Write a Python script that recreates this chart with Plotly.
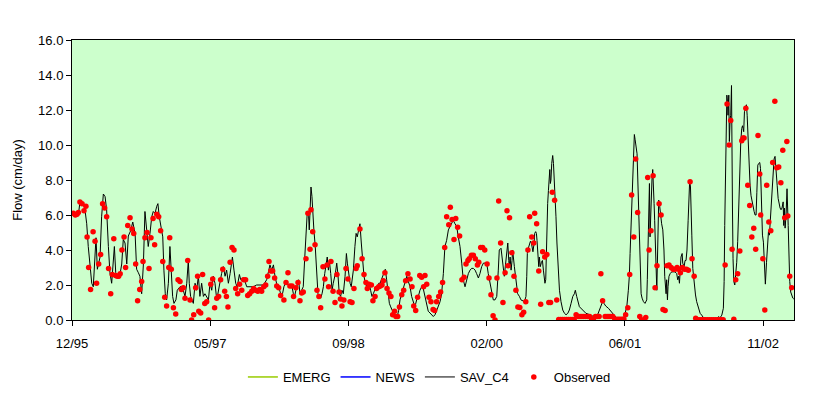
import numpy as np
import pandas as pd
import plotly.graph_objects as go

# ---------------- data ----------------
start_date = "1995-12-28"          # first date on the x axis (weekly time index origin)
tick_step_days = 500
tick_labels = ["12/95", "05/97", "09/98", "02/00", "06/01", "11/02"]
span_weeks = 373.1
y_ticks = [0, 2, 4, 6, 8, 10, 12, 14, 16]

# simulated flow (SAV_C4), week index and value (cm/day)
sav_week = [
    0.0, 1.5, 2.4, 3.3, 4.1, 5.9, 6.7, 7.6, 8.4, 9.3,
    10.2, 11.0, 11.9, 12.4, 13.1, 13.8, 14.5, 15.3, 16.2, 17.1,
    17.9, 18.8, 19.6, 20.5, 21.4, 21.9, 22.6, 23.4, 24.5, 25.7,
    26.5, 27.4, 28.3, 29.1, 30.3, 31.4, 32.6, 33.4, 34.3, 35.1,
    36.0, 36.9, 37.7, 38.6, 39.4, 40.3, 41.2, 42.0, 42.9, 43.8,
    44.4, 45.1, 46.0, 46.9, 47.5, 48.2, 48.9, 49.8, 50.6, 51.3,
    52.0, 52.7, 53.7, 54.4, 55.8, 56.7, 57.5, 58.4, 59.3, 60.1,
    60.6, 61.3, 62.0, 62.7, 63.6, 64.4, 65.3, 66.1, 67.0, 67.9,
    68.7, 69.6, 70.5, 71.3, 72.2, 73.0, 73.9, 74.8, 75.6, 76.5,
    77.3, 78.2, 79.1, 79.9, 80.8, 81.7, 82.9, 83.7, 84.6, 85.4,
    86.5, 87.2, 88.2, 89.4, 90.3, 92.0, 93.7, 95.4, 97.2, 98.9,
    100.6, 101.5, 102.3, 103.2, 104.1, 104.9, 105.8,
    106.1, 107.1, 107.8, 108.8, 109.5, 110.6, 111.3, 112.3, 113.0, 113.7,
    114.4, 115.0, 115.7, 116.4, 117.1, 117.8, 118.7, 119.5, 120.2, 120.9,
    121.6, 122.3, 122.6, 123.0, 123.5, 124.0, 124.4, 125.0, 125.7, 126.4,
    127.1, 127.8, 128.5, 129.2, 129.9, 130.6, 131.2, 131.9, 132.5, 133.0,
    133.7, 134.4, 135.0, 136.1, 136.8, 137.4, 138.1, 138.8, 139.5, 140.2,
    141.1, 141.8, 142.3, 143.0, 143.7, 144.3, 145.4, 146.2, 146.8, 147.4,
    148.1, 148.8, 149.5, 150.2, 150.9, 151.6, 152.3, 153.0, 153.6, 154.3,
    155.0, 155.7, 156.4, 157.1, 157.8, 158.5, 159.2, 159.9, 160.5, 161.2,
    161.9, 162.6, 163.3, 164.0, 164.7, 165.4, 166.1, 166.7, 167.4, 168.1,
    168.8, 169.5, 170.4, 171.2, 172.1, 173.0, 173.8, 174.7, 175.5, 176.4,
    177.2, 178.1, 179.0, 179.8, 180.7, 181.5, 182.4, 183.3, 184.1, 185.0,
    185.9, 186.7, 187.6, 188.4, 189.3, 190.2, 191.0, 191.9, 192.7, 193.6,
    194.5, 195.3, 196.2, 197.0, 197.9, 198.8, 199.6, 200.5, 201.4, 202.2,
    203.1, 203.9, 204.8, 205.7, 206.5, 207.4, 208.3, 209.1, 210.0, 210.8,
    211.7, 212.6, 213.4, 214.3, 215.1, 216.0, 216.9, 217.7, 218.6,
    219.5, 220.3, 220.8, 221.7, 222.9, 223.4, 224.0, 224.6, 225.2, 225.7,
    226.0, 226.4, 226.9, 227.4, 227.7, 228.6, 229.5, 230.3, 231.2, 232.0,
    233.8, 234.6, 235.0, 235.3, 235.8, 236.4, 236.9, 237.4, 237.9, 238.2,
    238.8, 239.1, 239.6, 240.0, 240.3, 240.7, 241.2, 241.5, 242.0, 242.6,
    243.1, 243.6, 244.1, 244.4, 244.8, 245.1, 245.5, 245.8, 246.2, 246.5,
    246.9, 247.2, 247.5, 247.9, 248.4, 248.8, 249.1, 249.6, 250.1, 250.6,
    251.2, 251.9, 252.7, 253.6, 254.5, 255.3, 256.2, 257.0, 257.9, 258.8,
    259.6, 260.1, 260.8, 261.5, 262.2, 263.9, 265.6,
    267.7, 269.4, 271.1, 272.0, 272.9, 273.7, 274.2, 274.9, 275.8, 277.2,
    278.4, 279.8, 281.5, 283.2, 285.0, 285.8, 286.7, 287.5, 288.0, 288.4,
    288.9, 289.2, 289.8, 290.3, 290.6, 291.0, 291.5, 292.0, 292.5, 293.0,
    293.5, 294.1, 294.6, 295.3, 296.1, 297.0, 297.3, 297.9, 298.4, 298.7,
    299.1, 299.4, 299.7, 300.1, 300.4, 300.8, 301.1, 301.5, 301.8, 302.2,
    302.5, 302.9, 303.2, 303.7, 304.2, 304.7, 305.3, 305.6, 305.9, 306.3,
    306.6, 307.0, 307.3, 307.7, 308.0, 308.5, 309.1, 309.9, 310.8, 311.6,
    312.5, 313.0, 313.5, 313.9, 314.2, 314.7, 315.3, 315.6, 316.3, 316.8,
    317.3, 317.8, 318.4, 318.9, 319.2, 319.6,
    319.9, 320.3, 320.8, 321.5, 322.2, 322.8, 323.7, 324.6, 325.4, 326.3,
    328.0, 329.7, 331.5, 333.2, 334.0, 334.9, 335.8, 336.6, 337.0, 337.3,
    337.7, 338.0, 338.4, 338.7, 339.0, 339.4, 339.7, 340.1, 340.4, 340.8,
    340.9, 341.3, 341.6, 342.0, 342.5, 343.0, 343.5, 344.0, 344.5, 345.1,
    345.6, 346.1, 346.5, 346.8, 347.1, 347.5, 348.0, 348.5, 348.9, 349.4,
    349.9, 350.4, 350.9, 351.4, 351.9, 352.5, 353.0, 353.5, 353.9, 354.4,
    354.9, 355.4, 355.8, 356.1, 356.4, 356.8, 357.3, 357.8, 358.3, 358.9,
    359.4, 359.9, 360.4, 360.8, 361.3, 361.8, 362.3, 362.8, 363.3, 363.9,
    364.4, 364.9, 365.4, 365.9, 366.4, 366.9, 367.5, 367.8, 368.2, 368.5,
    369.0, 369.5, 370.1, 370.4, 370.9, 371.4, 371.9, 372.5, 373.0,
]
sav_flow = [
    6.1, 5.9, 6.2, 6.0, 6.75, 6.7, 6.3, 5.5, 4.2, 3.2,
    2.1, 1.9, 4.2, 4.7, 2.9, 3.2, 3.6, 5.9, 7.2, 7.05,
    6.3, 4.2, 2.7, 2.1, 3.2, 4.2, 2.7, 2.5, 2.4, 3.2,
    4.6, 4.4, 3.2, 4.8, 5.1, 5.6, 4.95, 2.9, 2.7, 2.5,
    1.5, 3.2, 6.2, 5.1, 4.2, 4.95, 5.9, 6.2, 6.1, 6.5,
    6.65, 5.9, 5.3, 4.75, 2.85, 1.5, 1.15, 2.1, 4.2, 2.85,
    1.35, 0.95, 1.15, 1.7, 1.9, 1.9, 1.7, 1.35, 2.1, 3.4,
    2.1, 1.35, 1.15, 0.95, 2.1, 1.7, 2.5, 1.35, 2.1, 1.35,
    1.5, 1.35, 1.15, 2.1, 1.7, 2.5, 2.1, 1.15, 1.7, 2.1,
    2.65, 3.05, 2.5, 2.85, 2.1, 2.65, 3.6, 2.85, 2.1, 1.9,
    2.6, 2.3, 2.4, 2.2, 1.9, 1.9, 1.9, 2.0, 2.0, 2.0,
    2.3, 2.85, 3.15, 2.85, 3.15, 2.5, 1.9,
    1.9, 1.8, 1.5, 1.5, 1.9, 2.2, 2.1, 1.9, 2.0, 1.9,
    1.5, 1.35, 1.7, 2.1, 2.3, 1.5, 1.7, 1.9, 3.4, 5.15,
    6.2, 5.9, 5.15, 6.2, 7.6, 7.05, 6.1, 5.15, 4.2, 2.85,
    1.5, 1.35, 1.25, 1.5, 1.9, 2.65, 3.25, 3.6, 2.85, 3.4,
    2.65, 1.7, 2.1, 2.65, 3.25, 2.65, 1.5, 1.35, 1.7, 1.5,
    2.5, 3.8, 3.25, 2.5, 2.1, 1.9, 2.85, 4.2, 4.95, 4.75,
    5.15, 5.5, 4.4, 3.25, 2.5, 2.1, 1.9, 2.1, 2.1, 1.7,
    1.35, 1.5, 1.7, 1.9, 1.9, 2.1, 2.1, 2.3, 2.5, 2.65,
    2.9, 2.3, 1.5, 0.95, 0.75, 0.55, 0.4, 0.3, 0.1, 0.2,
    0.55, 1.15, 1.5, 1.9, 2.3, 2.5, 2.2, 1.9, 1.35, 0.95,
    0.75, 1.15, 1.35, 1.7, 1.9, 1.8, 1.35, 0.75, 0.5, 0.4,
    0.3, 0.2, 0.3, 0.55, 0.75, 1.05, 1.5, 2.65, 4.2, 4.55,
    5.15, 5.35, 5.6, 5.7, 5.5, 5.35, 4.75, 4.2, 3.25, 2.3,
    1.9, 2.3, 2.65, 2.85, 2.95, 2.95, 2.85, 2.65, 2.4, 2.65,
    3.05, 3.25, 3.25, 3.25, 2.65, 2.1, 1.5, 1.15, 1.15,
    1.35, 2.85, 4.0, 4.1, 3.05, 2.5, 3.15, 3.8, 4.4, 3.4,
    3.05, 3.6, 2.85, 3.4, 4.0, 3.05, 2.1, 1.5, 1.35, 1.15,
    1.05, 1.35, 2.5, 3.8, 4.1, 4.4, 4.5, 4.4, 4.0, 3.9,
    4.4, 4.95, 5.05, 4.95, 4.55, 3.4, 3.05, 3.6, 3.05, 3.3,
    3.4, 2.85, 2.5, 2.1, 2.3, 4.0, 5.9, 6.65, 7.4, 8.3,
    8.6, 7.8, 8.0, 8.95, 9.4, 8.95, 8.4, 7.2, 5.9, 4.4,
    2.65, 1.7, 1.05, 0.57, 0.38, 0.3, 0.38, 0.57, 0.95, 1.35,
    1.5, 1.7, 1.35, 0.95, 0.76, 0.57, 0.38,
    0.3, 0.2, 0.15, 0.4, 0.7, 0.95, 1.05, 0.95, 0.8, 0.67,
    0.5, 0.3, 0.1, 0.05, 0.05, 0.38, 0.76, 1.7, 2.5, 3.8,
    5.5, 6.65, 8.6, 10.0, 10.6, 10.3, 9.9, 9.5, 7.6, 5.15,
    2.65, 1.5, 1.25, 1.05, 0.95, 1.15, 2.3, 6.1, 7.8, 4.75,
    6.65, 7.6, 8.0, 8.6, 8.0, 6.65, 5.7, 3.8, 2.3, 1.7,
    3.25, 5.7, 6.85, 6.5, 5.7, 5.5, 5.15, 4.75, 4.0, 2.5,
    1.6, 1.5, 2.3, 1.15, 1.9, 2.5, 2.65, 2.75, 2.75, 2.75,
    2.65, 2.3, 2.5, 2.1, 2.65, 3.6, 3.8, 3.25, 3.05, 3.4,
    3.4, 4.0, 5.7, 7.6, 8.0, 7.6,
    6.75, 4.85, 2.95, 2.0, 1.43, 1.05, 0.67, 0.38, 0.28, 0.13,
    0.05, 0.04, 0.04, 0.1, 0.19, 0.13, 0.28, 0.67, 2.2, 5.4,
    8.7, 11.1, 12.85, 12.5, 11.7, 12.85, 10.2, 11.5, 11.7, 13.4,
    10.2, 6.4, 3.5, 2.2, 2.0, 2.6, 3.3, 4.5, 6.4, 8.3,
    10.2, 10.95, 11.1, 10.95, 10.76, 11.9, 12.2, 12.3, 11.7, 10.2,
    8.9, 7.7, 7.1, 6.75, 6.4, 6.2, 6.0, 6.0, 7.3, 8.85,
    8.95, 9.0, 8.65, 7.1, 5.4, 4.85, 4.45, 3.3, 2.05, 3.3,
    4.65, 5.05, 4.85, 5.6, 6.4, 7.7, 8.65, 9.2, 9.35, 8.65,
    7.7, 6.95, 6.55, 6.4, 6.3, 6.4, 6.75, 5.4, 6.4, 5.25,
    6.0, 7.5, 5.4, 3.5, 2.2, 1.6, 1.43, 1.25, 1.2,
]

# observed flow, week index and value (cm/day)
obs_week = [
    0.7, 1.7, 2.6, 3.3, 4.1, 5.2, 6.2, 7.2, 7.8, 8.6,
    9.6, 10.9, 11.9, 12.7, 13.8, 14.8, 15.8, 16.9, 17.9, 18.9,
    20.0, 20.8, 21.6, 22.5, 23.4, 24.1, 24.9, 25.8, 26.9, 27.7,
    28.8, 30.0, 31.0, 31.9, 32.9, 33.9, 35.0, 36.0, 36.7, 37.7,
    38.8, 39.8, 40.8, 41.9, 42.7, 43.8, 44.8, 45.8, 46.9, 47.9,
    48.9, 50.0, 50.5, 51.3, 52.4, 53.6, 54.8, 55.8, 56.5, 57.5,
    58.4, 59.8, 61.0, 61.8, 62.9, 63.9, 64.9, 65.5, 66.5, 67.5,
    68.6, 69.6, 70.6, 71.7, 72.7, 73.7, 74.8, 75.8, 76.8, 77.9,
    78.9, 79.8, 80.6, 81.7, 82.7, 83.7, 84.6, 85.6, 86.6, 87.7,
    88.7, 89.7, 90.8, 91.8, 92.9, 93.9, 94.9, 96.0, 97.0, 98.0,
    99.1, 100.1, 101.1, 101.8, 102.7, 103.7, 104.7, 105.8, 106.8, 107.8,
    109.5, 110.6, 111.6, 112.6, 113.7, 114.5, 115.7, 116.8, 117.8, 118.7,
    119.5, 120.9, 121.9, 123.0, 123.5, 124.4, 125.6, 126.6, 127.6, 128.5,
    129.7, 130.7, 131.8, 132.6, 133.8, 134.9, 135.9, 136.9, 138.0, 138.7,
    139.5, 140.5, 141.6, 142.6, 143.7, 144.7, 145.7, 146.8, 147.4, 148.8,
    149.9, 150.9, 151.9, 152.6, 153.5, 154.7, 155.5, 156.6, 157.4, 158.5,
    159.3, 160.2, 160.9, 161.7, 162.8, 163.8, 164.8, 165.7, 166.7, 167.4,
    168.3, 169.2, 170.4, 171.4, 172.4, 173.6, 174.7, 175.7, 176.6, 177.6,
    178.6, 179.7, 180.7, 181.7, 182.4, 183.3, 184.5, 185.5, 186.6, 187.4,
    188.4, 189.5, 190.5, 191.5, 192.6, 193.6, 194.7, 195.5, 196.4, 197.4,
    198.3, 199.3, 200.3, 201.5, 202.6, 203.6, 204.6, 205.3, 206.4, 207.4,
    208.4, 209.5, 210.2, 211.2, 212.2, 213.3, 214.5, 215.5, 216.5, 217.6,
    218.6, 219.6, 220.5, 221.5, 222.7, 223.8, 224.8, 225.3, 226.1, 227.3,
    228.4, 229.4, 230.4, 231.4, 232.5, 233.4, 234.5, 235.6, 236.5, 237.6,
    238.6, 239.1, 240.1, 241.2, 242.2, 243.2, 244.3, 245.4, 246.4, 247.3,
    248.2, 249.4, 250.5,
    251.5, 252.5, 253.5, 254.5, 255.5, 256.5, 257.5, 258.5, 259.5, 260.5,
    261.5, 262.5, 263.5, 264.5, 265.5, 266.5, 267.5, 268.5, 269.5, 270.5,
    271.5, 272.4, 273.3, 274.2, 275.5, 276.5, 277.5, 278.5, 279.5, 280.5,
    281.5, 282.5, 283.5, 284.5, 285.2, 286.1, 287.2, 288.2, 289.2, 290.3,
    291.3, 292.3, 293.4, 294.4, 295.3, 296.5, 297.5, 298.2, 299.2, 300.3,
    301.3, 302.3, 303.4, 304.4, 305.4, 306.5, 307.5, 308.5, 309.6, 310.6,
    311.6, 312.7, 313.4, 314.4, 315.4, 316.5, 317.5, 318.5, 319.4, 320.4,
    321.5, 322.3, 323.5, 324.5, 325.5, 326.5, 327.5, 328.5, 329.5, 330.5,
    331.5, 332.5, 333.5, 334.5, 335.5, 336.5, 337.5, 338.5, 339.6, 340.4,
    341.1, 342.0, 343.0, 344.0, 345.1, 346.1, 346.8, 347.3, 348.2, 349.2,
    350.2, 351.3, 352.3, 353.3, 354.5, 355.4, 355.9, 357.0, 358.0, 359.0,
    360.1, 361.1, 362.1, 363.2, 364.2, 365.2, 366.3, 367.3, 368.3, 369.4,
    369.9, 370.9, 371.9,
]
obs_flow = [
    6.1, 6.0, 6.05, 6.15, 6.75, 6.65, 6.25, 6.5, 4.75, 3.0,
    1.75, 5.05, 4.5, 2.1, 3.2, 3.75, 6.65, 6.4, 5.9, 2.95,
    1.5, 2.6, 4.65, 2.55, 2.5, 2.5, 2.65, 4.0, 4.75, 3.0,
    5.4, 5.85, 5.2, 4.95, 3.2, 1.1, 1.75, 2.2, 3.35, 4.7,
    5.0, 2.95, 4.7, 5.8, 4.3, 6.05, 5.9, 5.1, 3.35, 1.3,
    0.8, 3.0, 4.7, 2.9, 0.7, 0.35, 2.3, 2.2, 1.75, 1.85,
    1.25, 3.4, 1.15, 0.0, 0.3, 1.85, 2.5, 0.5, 0.4, 2.6,
    0.95, 1.05, 0.0, 2.05, 2.35, 0.7, 1.25, 1.35, 2.3, 2.9,
    1.65, 1.35, 0.75, 3.3, 4.15, 4.0, 1.8, 1.5, 2.05, 1.7,
    2.3, 2.3, 1.4, 1.5, 1.65, 1.8, 1.7, 1.65, 1.75, 1.65,
    1.9, 2.0, 2.5, 3.35, 2.8, 2.8, 2.4, 1.95, 1.85, 1.4,
    1.15, 2.15, 2.7, 1.95, 1.95, 1.35, 1.85, 2.15, 1.1, 1.55,
    1.6, 3.5, 6.1, 4.05, 6.3, 5.05, 4.3, 1.7, 1.35, 0.7,
    3.05, 2.35, 3.15, 1.9, 3.35, 1.65, 1.0, 2.6, 1.6, 1.2,
    0.8, 1.15, 2.95, 2.35, 1.05, 1.0, 1.8, 2.95, 3.1, 5.2,
    3.5, 2.6, 2.15, 1.8, 2.05, 2.0, 1.1, 1.35, 1.8, 1.9,
    1.95, 2.0, 2.25, 2.7, 1.8, 1.55, 1.35, 0.3, 0.5, 0.2,
    0.2, 0.75, 1.45, 1.7, 2.25, 2.65, 2.35, 1.9, 0.8, 0.55,
    1.3, 2.55, 2.45, 1.9, 2.55, 2.05, 1.3, 1.05, 0.6, 0.55,
    1.05, 1.35, 1.6, 2.15, 4.15, 5.9, 5.45, 6.45, 5.75, 4.6,
    5.8, 5.3, 4.8, 2.3, 2.45, 3.2, 3.4, 3.5, 3.7, 3.7,
    3.5, 3.15, 3.3, 4.15, 4.15, 4.0, 3.2, 2.4, 1.45, 0.25,
    0.0, 2.4, 6.8, 4.4, 1.0, 2.7, 6.25, 3.1, 5.85, 3.85,
    2.5, 1.7, 0.75, 0.72, 0.3, 0.45, 1.05, 4.0, 5.9, 4.75,
    4.4, 6.1, 5.5, 2.8, 0.9, 3.9, 3.6, 3.75, 1.0, 1.0,
    7.3, 6.85, 1.15,
    0.03, 0.03, 0.03, 0.03, 0.03, 0.03, 0.03, 0.03, 0.03, 0.3,
    0.2, 0.2, 0.2, 0.2, 0.2, 0.2, 0.2, 0.05, 0.0, 0.2,
    0.2, 0.2, 2.65, 1.1, 0.2, 0.2, 0.2, 0.2, 0.2, 0.05,
    0.05, 0.05, 0.05, 0.05, 0.05, 0.3, 0.7, 2.6, 7.15, 4.75,
    9.2, 6.15, 0.2, 0.0, 0.0, 0.15, 8.15, 4.0, 5.1, 8.25,
    1.85, 3.1, 6.65, 6.0, 0.6, 0.55, 3.1, 3.15, 3.0, 2.9,
    2.9, 3.0, 2.9, 2.7, 3.0, 2.9, 2.9, 2.85, 7.9, 3.5,
    2.5, 0.1, 0.02, 0.02, 0.02, 0.02, 0.02, 0.02, 0.02, 0.02,
    0.02, 0.02, 0.02, 0.02, 0.02, 0.02, 3.15, 12.35, 10.0, 11.4,
    4.05, 0.05, 2.3, 2.65, 3.95, 10.25, 10.4, 10.4, 12.1, 7.7,
    6.55, 4.75, 5.25, 4.05, 10.55, 8.35, 6.0, 3.5, 0.57, 7.7,
    5.6, 5.1, 9.0, 12.5, 8.7, 8.75, 7.85, 9.7, 5.85, 10.2,
    5.95, 2.5, 1.85,
]

# ---------------- helpers ----------------
t0 = pd.Timestamp(start_date)


def to_dates(weeks):
    return t0 + pd.to_timedelta(np.asarray(weeks, dtype=float) * 7, unit="D")


sav_dates = to_dates(sav_week)
obs_dates = to_dates(obs_week)
tick_dates = [t0 + pd.Timedelta(days=tick_step_days * i) for i in range(len(tick_labels))]
x_end = t0 + pd.Timedelta(days=span_weeks * 7)

FONT = "Arial, 'Liberation Sans', sans-serif"

fig = go.Figure()
fig.add_trace(go.Scatter(x=[None], y=[None], mode="lines", name="EMERG",
                         line=dict(color="#99CC00", width=1.5)))
fig.add_trace(go.Scatter(x=[None], y=[None], mode="lines", name="NEWS",
                         line=dict(color="#0000FF", width=1.5)))
fig.add_trace(go.Scatter(x=sav_dates, y=sav_flow, mode="lines", name="SAV_C4",
                         line=dict(color="#000000", width=1)))
fig.add_trace(go.Scatter(x=obs_dates, y=obs_flow, mode="markers", name="Observed",
                         marker=dict(color="#FF0000", size=5.5, symbol="circle",
                                     line=dict(width=0))))

fig.update_layout(
    width=830, height=397,
    margin=dict(l=72, r=36, t=40, b=77, autoexpand=False),
    paper_bgcolor="white",
    plot_bgcolor="#CCFFCC",
    font=dict(family=FONT, size=13, color="black"),
    showlegend=True,
    legend=dict(orientation="h", x=0.495, xanchor="center",
                yref="container", y=1 - 377 / 397, yanchor="middle",
                font=dict(size=13), bgcolor="rgba(0,0,0,0)", tracegroupgap=0,
                itemwidth=30),
)
fig.update_xaxes(
    type="date", range=[t0, x_end],
    tickvals=tick_dates, ticktext=tick_labels,
    ticks="outside", ticklen=5, tickcolor="black", tickwidth=1,
    ticklabelstandoff=6,
    showline=True, linecolor="black", linewidth=1, mirror=True,
    showgrid=False, zeroline=False,
)
fig.update_yaxes(
    range=[0, 16], tickvals=y_ticks, tickformat=".1f",
    ticks="outside", ticklen=5, tickcolor="black", tickwidth=1,
    showline=True, linecolor="black", linewidth=1, mirror=True,
    showgrid=False, zeroline=False,
    title=dict(text="Flow (cm/day)", standoff=12, font=dict(size=13)),
)

fig.write_html("out.html", config={"displayModeBar": False},
               post_script="document.body.style.margin='0';")
